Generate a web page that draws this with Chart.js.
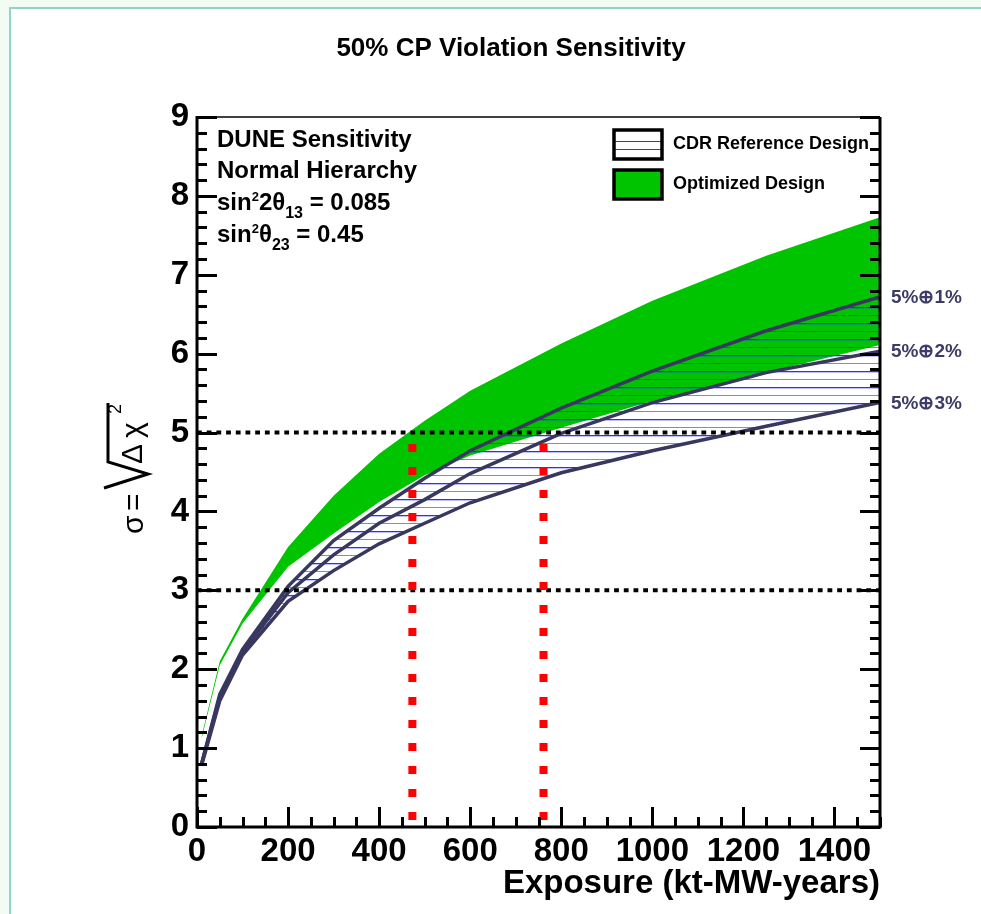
<!DOCTYPE html>
<html>
<head>
<meta charset="utf-8">
<title>50% CP Violation Sensitivity</title>
<script src="https://cdn.jsdelivr.net/npm/chart.js@4.4.1/dist/chart.umd.min.js"></script>
<style>
  html, body { margin: 0; padding: 0; }
  body { width: 981px; height: 914px; background: #f2fcf2; position: relative; overflow: hidden; }
  #frame { position: absolute; left: 9px; top: 7px; width: 1000px; height: 940px; background: #fff;
           border-left: 2px solid #8fd4c6; border-top: 2px solid #8fd4c6; }
  #chartCanvas { position: absolute; left: 0; top: 0; }
</style>
</head>
<body>
<div id="frame"></div>
<canvas id="chartCanvas" width="981" height="914"></canvas>
<script>
// Exposure points (kt-MW-years)
const exposure = [10, 50, 100, 200, 300, 400, 500, 600, 800, 1000, 1250, 1500];

// Optimized design band (lower / upper edge)
const optLow  = [1.12, 2.05, 2.58, 3.30, 3.72, 4.12, 4.46, 4.71, 5.06, 5.40, 5.76, 6.11];
const optHigh = [1.15, 2.10, 2.64, 3.55, 4.20, 4.73, 5.15, 5.53, 6.13, 6.67, 7.24, 7.73];

// CDR reference design, one curve per systematics assumption
const cdr1 = [0.80, 1.68, 2.25, 3.05, 3.63, 4.04, 4.42, 4.77, 5.31, 5.78, 6.29, 6.72];
const cdr2 = [0.80, 1.65, 2.22, 2.97, 3.45, 3.85, 4.15, 4.48, 4.99, 5.38, 5.76, 6.03];
const cdr3 = [0.78, 1.60, 2.18, 2.86, 3.25, 3.59, 3.85, 4.11, 4.49, 4.77, 5.08, 5.38];
const cdrLabels = ['5%\u22951%', '5%\u22952%', '5%\u22953%'];

// Reference significance levels and the exposures that reach 5 sigma
const sigmaLevels = [3, 5];
const fiveSigmaExposure = [473, 761];

// Axis ticks
const xTickValues = [0, 200, 400, 600, 800, 1000, 1200, 1400];
const yTickValues = [0, 1, 2, 3, 4, 5, 6, 7, 8, 9];

const GREEN = '#00c400';
const NAVY = '#37375f';
const HATCH = 'rgb(45,45,255)';
const FONT = '"Liberation Sans", Arial, sans-serif';

const pts = ys => exposure.map((x, i) => ({ x: x, y: ys[i] }));

// horizontal line hatch for the CDR band
function makeHatch(ctx) {
    const c = document.createElement('canvas');
    c.width = 8;
    c.height = 16;
    const g = c.getContext('2d');
    g.fillStyle = HATCH;
    g.fillRect(0, 3, 8, 1);
    g.fillStyle = 'rgba(45,45,255,0.3)';
    g.fillRect(0, 4, 8, 1);
    g.fillStyle = 'rgba(45,45,255,0.6)';
    g.fillRect(0, 11, 8, 1);
    return ctx.createPattern(c, 'repeat');
}

// text with super/subscripts: parts = [[text, 'n'|'sup'|'sub'], ...]
function drawRich(ctx, parts, x, y, size) {
    let cx = x;
    for (const [t, kind] of parts) {
        let s = size, dy = 0;
        if (kind === 'sup') { s = 13; dy = -9; }
        if (kind === 'sub') { s = 16; dy = 8; }
        ctx.font = `bold ${s}px ${FONT}`;
        ctx.fillText(t, cx, y + dy);
        cx += ctx.measureText(t).width;
    }
}

// axis frame with ROOT style inside ticks
const framePlugin = {
    id: 'frame',
    afterDatasetsDraw(chart) {
        const { ctx, chartArea: a, scales: { x, y } } = chart;
        ctx.save();
        ctx.strokeStyle = '#000';
        ctx.lineCap = 'butt';

        // top
        ctx.lineWidth = 1.5;
        ctx.beginPath();
        ctx.moveTo(a.left, a.top);
        ctx.lineTo(a.right, a.top);
        ctx.stroke();

        // left, bottom, right
        ctx.lineWidth = 3;
        ctx.beginPath();
        ctx.moveTo(a.left, a.top - 1);
        ctx.lineTo(a.left, a.bottom);
        ctx.lineTo(a.right, a.bottom);
        ctx.lineTo(a.right, a.top);
        ctx.stroke();

        // y ticks, both sides
        for (let v = 0; v <= 9.001; v += 0.2) {
            const py = Math.round(y.getPixelForValue(v)) + 0.5;
            const major = Math.abs(v - Math.round(v)) < 1e-6;
            const len = major ? 20 : 10;
            ctx.beginPath();
            ctx.moveTo(a.left, py);
            ctx.lineTo(a.left + len, py);
            ctx.moveTo(a.right, py);
            ctx.lineTo(a.right - len, py);
            ctx.stroke();
        }
        // x ticks
        for (let v = 0; v <= 1500; v += 50) {
            const px = Math.round(x.getPixelForValue(v)) + 0.5;
            const len = v % 200 === 0 ? 20 : 10;
            ctx.beginPath();
            ctx.moveTo(px, a.bottom);
            ctx.lineTo(px, a.bottom - len);
            ctx.stroke();
        }
        ctx.restore();
    }
};

const textPlugin = {
    id: 'texts',
    afterDraw(chart) {
        const { ctx, chartArea: a, scales: { x, y } } = chart;
        ctx.save();
        ctx.fillStyle = '#000';
        ctx.textBaseline = 'alphabetic';

        // title
        ctx.textAlign = 'center';
        ctx.font = `bold 26px ${FONT}`;
        ctx.fillText('50% CP Violation Sensitivity', 511, 56);

        // x axis title
        ctx.textAlign = 'right';
        ctx.font = `bold 33px ${FONT}`;
        ctx.fillText('Exposure (kt-MW-years)', a.right, 893);

        // info block
        ctx.textAlign = 'left';
        ctx.font = `bold 24px ${FONT}`;
        ctx.fillText('DUNE Sensitivity', 217, 147);
        ctx.fillText('Normal Hierarchy', 217, 178);
        drawRich(ctx, [['sin', 'n'], ['2', 'sup'], ['2\u03b8', 'n'], ['13', 'sub'], [' = 0.085', 'n']], 217, 210, 24);
        drawRich(ctx, [['sin', 'n'], ['2', 'sup'], ['\u03b8', 'n'], ['23', 'sub'], [' = 0.45', 'n']], 217, 242, 24);

        // legend
        ctx.fillStyle = '#fff';
        ctx.fillRect(614, 130, 48, 29);
        ctx.fillStyle = HATCH;
        ctx.fillRect(614, 141, 48, 1);
        ctx.fillRect(614, 149, 48, 1);
        ctx.fillStyle = GREEN;
        ctx.fillRect(614, 170, 48, 29);
        ctx.strokeStyle = '#000';
        ctx.lineWidth = 3.5;
        ctx.strokeRect(614, 130, 48, 29);
        ctx.strokeRect(614, 170, 48, 29);
        ctx.fillStyle = '#000';
        ctx.font = `bold 18px ${FONT}`;
        ctx.fillText('CDR Reference Design', 673, 149);
        ctx.fillText('Optimized Design', 673, 189);

        // curve labels at the right edge
        ctx.fillStyle = '#3c3c68';
        ctx.font = `bold 19px ${FONT}`;
        [cdr1, cdr2, cdr3].forEach((c, i) => {
            ctx.fillText(cdrLabels[i], a.right + 11, y.getPixelForValue(c[c.length - 1]) + 6);
        });

        // y axis title: sigma = sqrt(Delta chi^2), rotated
        ctx.fillStyle = '#000';
        ctx.strokeStyle = '#000';
        ctx.rotate(-Math.PI / 2);
        ctx.font = `30px ${FONT}`;
        ctx.fillText('\u03c3', -534, 143);
        ctx.fillText('=', -511, 143);
        ctx.lineWidth = 3;
        ctx.lineJoin = 'miter';
        ctx.beginPath();
        ctx.moveTo(-488, 104);
        ctx.lineTo(-474, 148);
        ctx.lineTo(-462, 108);
        ctx.lineTo(-403, 108);
        ctx.stroke();
        ctx.fillText('\u0394', -464, 142);
        ctx.fillText('\u03c7', -438, 142);
        ctx.font = `18px ${FONT}`;
        ctx.fillText('2', -414, 121);
        ctx.restore();
    }
};

const ctx = document.getElementById('chartCanvas').getContext('2d');
const hatch = makeHatch(ctx);

const lineBase = { pointRadius: 0, tension: 0, fill: false };

const datasets = [
    { ...lineBase, label: 'Optimized low', data: pts(optLow), borderWidth: 0, borderColor: 'transparent', order: 51 },
    { ...lineBase, label: 'Optimized Design', data: pts(optHigh), borderWidth: 0, borderColor: 'transparent',
      fill: { target: 0 }, backgroundColor: GREEN, order: 50 },
    { ...lineBase, label: cdrLabels[0], data: pts(cdr1), borderColor: NAVY, borderWidth: 3.5,
      fill: { target: 4 }, backgroundColor: hatch, order: 22 },
    { ...lineBase, label: cdrLabels[1], data: pts(cdr2), borderColor: NAVY, borderWidth: 3.5, order: 21 },
    { ...lineBase, label: cdrLabels[2], data: pts(cdr3), borderColor: NAVY, borderWidth: 3.5, order: 20 },
    ...sigmaLevels.map(s => ({
        ...lineBase, label: s + ' sigma', data: [{ x: 0, y: s }, { x: 1500, y: s }],
        borderColor: '#000', borderWidth: 4, borderDash: [4.8, 4.9], order: 2
    })),
    ...fiveSigmaExposure.map(e => ({
        ...lineBase, label: 'exposure ' + e, data: [{ x: e, y: 0 }, { x: e, y: 5 }],
        borderColor: '#ff0000', borderWidth: 8, borderDash: [8, 15], borderDashOffset: 16, order: 1
    }))
];

const tickFont = { family: FONT, weight: 'bold', size: 33 };

new Chart(ctx, {
    type: 'line',
    data: { datasets: datasets },
    options: {
        responsive: false,
        animation: false,
        devicePixelRatio: 1,
        layout: { padding: { left: 0, right: 101, top: 117, bottom: 0 } },
        plugins: { legend: { display: false }, tooltip: { enabled: false }, title: { display: false } },
        scales: {
            x: {
                type: 'linear', min: 0, max: 1500,
                afterFit: s => { s.height = 87; },
                afterBuildTicks: s => { s.ticks = xTickValues.map(v => ({ value: v })); },
                grid: { display: false, drawTicks: false },
                border: { display: false },
                ticks: { color: '#000', font: tickFont, padding: 5, autoSkip: false, maxRotation: 0,
                         callback: v => String(v) }
            },
            y: {
                type: 'linear', min: 0, max: 9,
                afterFit: s => { s.width = 197; },
                afterBuildTicks: s => { s.ticks = yTickValues.map(v => ({ value: v })); },
                grid: { display: false, drawTicks: false },
                border: { display: false },
                ticks: { color: '#000', font: tickFont, padding: 8, callback: v => String(v) }
            }
        }
    },
    plugins: [framePlugin, textPlugin]
});
</script>
</body>
</html>
